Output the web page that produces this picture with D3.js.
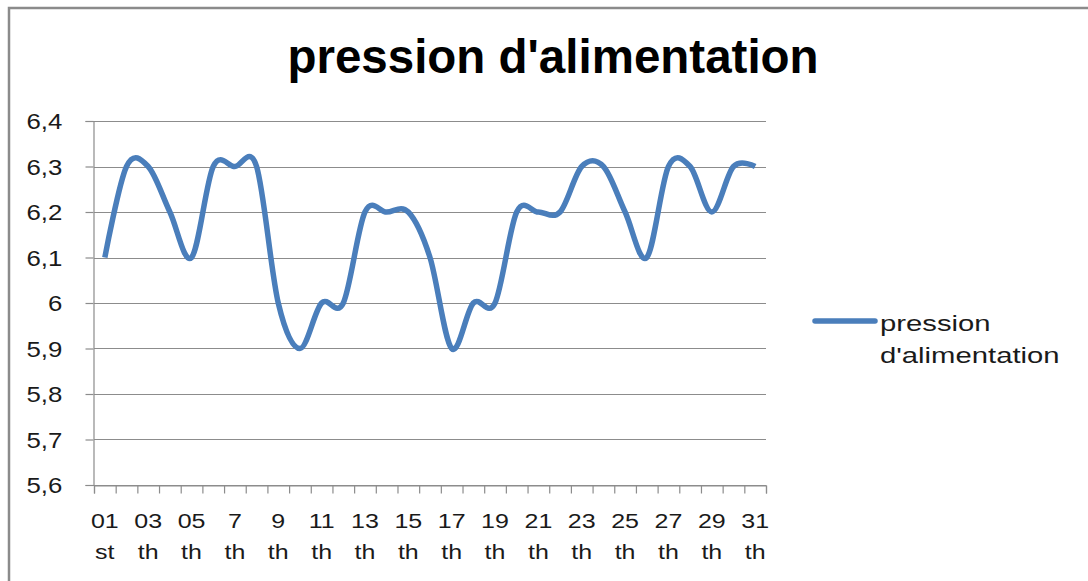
<!DOCTYPE html>
<html>
<head>
<meta charset="utf-8">
<script src="https://cdn.jsdelivr.net/npm/d3@7"></script>
<style>
  body { margin: 0; background: #fff; }
  svg { display: block; }
</style>
</head>
<body>
<svg id="chart" width="1088" height="581"></svg>
<script>
// Daily supply pressure over one month
const days = d3.range(1, 32);
const pression = [6.1, 6.3, 6.3, 6.2, 6.1, 6.3, 6.3, 6.3, 6.0, 5.9,
                  6.0, 6.0, 6.2, 6.2, 6.2, 6.1, 5.9, 6.0, 6.0, 6.2,
                  6.2, 6.2, 6.3, 6.3, 6.2, 6.1, 6.3, 6.3, 6.2, 6.3, 6.3];
const yTicks = [5.6, 5.7, 5.8, 5.9, 6.0, 6.1, 6.2, 6.3, 6.4];
const labelDays = [1, 3, 5, 7, 9, 11, 13, 15, 17, 19, 21, 23, 25, 27, 29, 31];
const labelTop = ["01", "03", "05", "7", "9", "11", "13", "15", "17", "19", "21", "23", "25", "27", "29", "31"];
const labelBottom = ["st", "th", "th", "th", "th", "th", "th", "th", "th", "th", "th", "th", "th", "th", "th", "th"];
const seriesName = "pression d'alimentation";
const legendLines = ["pression", "d'alimentation"];

const FONT = "'Liberation Sans', Arial, sans-serif";
const LINE_COLOR = "#4a7ebb";
const GRID_COLOR = "#8c8c8c";
const TEXT_COLOR = "#1a1a1a";

const svg = d3.select("#chart");
const plot = { left: 94, right: 766, top: 121, bottom: 485 };

const x = d3.scaleBand().domain(days).range([plot.left, plot.right]).paddingInner(0).paddingOuter(0);
const xEdges = d3.scaleLinear().domain([0, days.length]).range([plot.left, plot.right]);
const y = d3.scaleLinear().domain([5.6, 6.4]).range([plot.bottom, plot.top]);
const fmt = v => (Math.round(v * 10) / 10).toString().replace(".", ",");

// outer frame
svg.append("path")
  .attr("d", "M9,581 V8 H1088")
  .attr("fill", "none")
  .attr("stroke", "#8b8b8b")
  .attr("stroke-width", 2.5);

// title
svg.append("text")
  .attr("x", 553).attr("y", 73)
  .attr("text-anchor", "middle")
  .attr("font-family", FONT)
  .attr("font-weight", "bold")
  .attr("font-size", 47.5)
  .attr("fill", "#000")
  .text(seriesName);

// horizontal gridlines
svg.append("g").selectAll("line").data(yTicks).join("line")
  .attr("x1", plot.left).attr("x2", plot.right)
  .attr("y1", d => Math.round(y(d)) + 0.5).attr("y2", d => Math.round(y(d)) + 0.5)
  .attr("stroke", GRID_COLOR).attr("stroke-width", 1.2);

// y axis
const yAxis = svg.append("g")
  .attr("transform", `translate(${plot.left - 0.5},0)`)
  .call(d3.axisLeft(y).tickValues(yTicks).tickFormat(fmt).tickSize(8).tickPadding(18));
yAxis.select(".domain").attr("stroke", GRID_COLOR).attr("stroke-width", 1.2);
yAxis.selectAll(".tick line").attr("stroke", GRID_COLOR).attr("stroke-width", 1.2);
yAxis.selectAll(".tick text")
  .attr("font-family", FONT).attr("font-size", 21.5).attr("fill", TEXT_COLOR)
  .attr("dy", "0.36em")
  .attr("transform", "scale(1.2,1)");

// x axis: tick marks at category boundaries
const xAxis = svg.append("g")
  .attr("transform", `translate(0,${plot.bottom + 0.5})`)
  .call(d3.axisBottom(xEdges).tickValues(d3.range(0, days.length + 1)).tickFormat("").tickSize(8));
xAxis.select(".domain").attr("stroke", GRID_COLOR).attr("stroke-width", 1.2);
xAxis.selectAll(".tick line").attr("stroke", GRID_COLOR).attr("stroke-width", 1.2);

// x category labels, two lines each
const xl = svg.append("g").selectAll("g").data(labelDays).join("g")
  .attr("transform", d => `translate(${x(d) + x.bandwidth() / 2},0)`);
xl.append("text")
  .attr("transform", "translate(0,528) scale(1.22,1)")
  .attr("text-anchor", "middle")
  .attr("font-family", FONT).attr("font-size", 20.5).attr("fill", TEXT_COLOR)
  .text((d, i) => labelTop[i]);
xl.append("text")
  .attr("transform", "translate(0,559) scale(1.22,1)")
  .attr("text-anchor", "middle")
  .attr("font-family", FONT).attr("font-size", 20.5).attr("fill", TEXT_COLOR)
  .text((d, i) => labelBottom[i]);

// smoothed series line
const line = d3.line()
  .x((d, i) => x(days[i]) + x.bandwidth() / 2)
  .y(d => y(d))
  .curve(d3.curveCatmullRom.alpha(0));
svg.append("path")
  .datum(pression)
  .attr("d", line)
  .attr("fill", "none")
  .attr("stroke", LINE_COLOR)
  .attr("stroke-width", 5.5)
  .attr("stroke-linejoin", "round")
  .attr("stroke-linecap", "butt");

// legend
svg.append("line")
  .attr("x1", 815).attr("x2", 875).attr("y1", 321).attr("y2", 321)
  .attr("stroke", LINE_COLOR).attr("stroke-width", 5.5).attr("stroke-linecap", "round");
svg.append("g").selectAll("text").data(legendLines).join("text")
  .attr("transform", (d, i) => `translate(880,${331 + i * 32}) scale(1.33,1)`)
  .attr("font-family", FONT).attr("font-size", 22).attr("fill", TEXT_COLOR)
  .text(d => d);
</script>
</body>
</html>
